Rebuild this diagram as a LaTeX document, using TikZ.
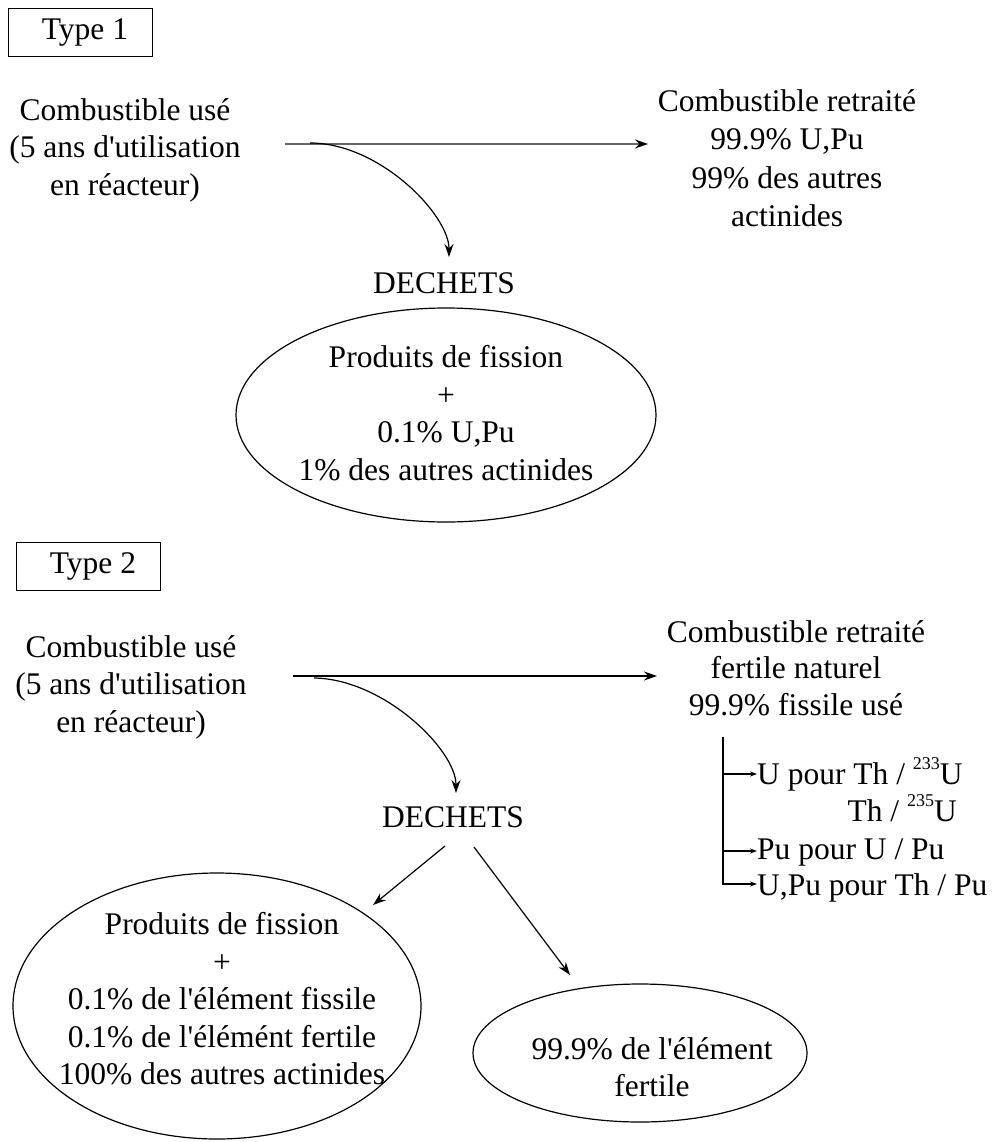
\documentclass[tikz,border=0pt]{standalone}
\usepackage{fontspec}
\setmainfont{Liberation Serif}
\usetikzlibrary{shapes.geometric,arrows.meta}
\newcommand{\qs}{\textquotesingle}
\newcommand{\isotope}[1]{\raisebox{15pt}{\fontsize{18}{18}\selectfont #1}}
\begin{document}
\begin{tikzpicture}[x=1pt,y=-1pt,
  txt/.style={font=\fontsize{31.5}{37.5}\selectfont, align=center, inner sep=0pt},
  tbox/.style={draw, line width=1pt, minimum width=144pt, minimum height=48pt, inner sep=0pt, font=\fontsize{31.5}{37.5}\selectfont},
  ell/.style={draw, ellipse, line width=1.2pt, inner sep=0pt},
  arr/.style={line width=1.2pt, -{Stealth[length=13pt,width=9pt]}},
  sarr/.style={line width=1.2pt, -{Stealth[length=7pt,width=5pt]}},
]
\useasboundingbox (0,0) rectangle (994,1142);

% ---------- Type 1 ----------
\node[tbox] (t1) at (80,33) {\hspace{10pt}Type 1};
\node[txt] (c1) at (125,150) {Combustible usé\\(5 ans d\qs utilisation\\en réacteur)};
\node[txt, font=\fontsize{31.5}{38.5}\selectfont] (r1) at (787,158) {Combustible retraité\\99.9\% U,Pu\\99\% des autres\\actinides};
\node[txt] (d1) at (444,283) {DECHETS};
\node[ell, minimum width=420pt, minimum height=214pt] (e1) at (446,415) {};
\node[txt] (e1t) at (446,413) {Produits de fission\\+\\0.1\% U,Pu\\1\% des autres actinides};

\coordinate (h1s) at (285,144);
\coordinate (h1e) at (648,144);
\draw[line width=1.5pt, black!60, -{Stealth[length=13pt,width=9pt,black]}] (h1s) -- (h1e);
\coordinate (k1s) at (310,143);
\coordinate (k1e) at (449,257);
\draw[arr] (k1s) .. controls (380,143) and (449,215) .. (k1e);

% ---------- Type 2 ----------
\node[tbox] (t2) at (88,566) {\hspace{10pt}Type 2};
\node[txt] (c2) at (131,687) {Combustible usé\\(5 ans d\qs utilisation\\en réacteur)};
\node[txt, font=\fontsize{31.5}{36.5}\selectfont] (r2) at (796,668) {Combustible retraité\\fertile naturel\\99.9\% fissile usé};
\node[txt] (d2) at (453,817) {DECHETS};

\coordinate (h2s) at (293,676);
\coordinate (h2e) at (657,676);
\draw[arr] (h2s) -- (h2e);
\coordinate (k2s) at (314,678);
\coordinate (k2e) at (456,793);
\draw[arr] (k2s) .. controls (384,679) and (456,750) .. (k2e);

% branch list
\node[txt, anchor=base west] (b1) at (757,784) {U pour Th / \isotope{233}U};
\node[txt, anchor=base east] (b2) at (957,821) {Th / \isotope{235}U};
\node[txt, anchor=base west] (b3) at (757,859) {Pu pour U / Pu};
\node[txt, anchor=base west] (b4) at (757,895) {U,Pu pour Th / Pu};
\coordinate (vt) at (723,737);
\coordinate (v1) at (723,774);
\coordinate (v3) at (723,851);
\coordinate (v4) at (723,884);
\draw[sarr] (v1) -- (v1 -| b1.west);
\draw[sarr] (v3) -- (v3 -| b3.west);
\draw[sarr] (vt) -- (v4) -- (v4 -| b4.west);

% waste ellipses
\node[ell, minimum width=408pt, minimum height=266pt] (e2) at (217,1006) {};
\node[txt] (e2t) at (222,999) {Produits de fission\\+\\0.1\% de l\qs élément fissile\\0.1\% de l\qs élémént fertile\\100\% des autres actinides};
\node[ell, minimum width=334pt, minimum height=138pt] (e3) at (640,1053) {};
\node[txt] (e3t) at (652,1067) {99.9\% de l\qs élément\\fertile};

\coordinate (a1s) at (445,846);
\coordinate (a1e) at (373,905);
\coordinate (a2s) at (474,847);
\coordinate (a2e) at (570,975);
\draw[arr] (a1s) -- (a1e);
\draw[arr] (a2s) -- (a2e);
\end{tikzpicture}
\end{document}
